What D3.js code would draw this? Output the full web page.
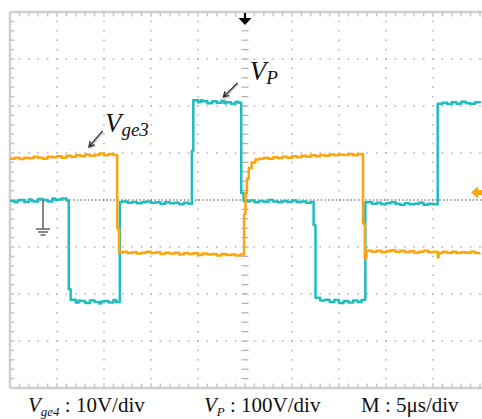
<!DOCTYPE html>
<html>
<head>
<meta charset="utf-8">
<script src="https://cdn.jsdelivr.net/npm/d3@7"></script>
<style>
body { margin: 0; background: #fff; }
</style>
</head>
<body>
<svg id="scope" width="482" height="419"></svg>
<script>
// time in us, level in screen divisions (0 = centre line)
var vpTrace = [
    [0,-0.02],[0.5,-0.05],[0.8,-0.01],[1,0],[1.5,-0.04],[2,0.01],[2.3,-0.02],[2.5,-0.03],[3,0.02],[3.5,0],[4,-0.03],[4.5,0.03],[4.8,0],[5,0.01],[5.5,0.03],[6,-0.01],
    [6.25,-1.9],[6.45,-2.12],[7,-2.18],[7.3,-2.14],[7.5,-2.15],[8,-2.19],[8.5,-2.14],[9,-2.17],[9.5,-2.2],[9.7,-2.16],[10,-2.15],[10.5,-2.18],[11,-2.13],[11.3,-2.17],
    [11.68,-0.04],[12,-0.03],[12.5,-0.06],[13,-0.04],[13.5,-0.07],[14,-0.05],[14.5,-0.03],[15,-0.06],[15.5,-0.05],[16,-0.08],[16.5,-0.05],[17,-0.07],[17.5,-0.06],[18,-0.09],[18.5,-0.06],[19,-0.08],
    [19.35,1.05],[19.5,2.12],[20,2.08],[20.3,2.12],[20.5,2.1],[21,2.06],[21.5,2.1],[22,2.07],[22.5,2.11],[22.8,2.06],[23,2.08],[23.5,2.05],[24,2.09],[24.3,2.07],
    [24.6,0.15],[24.85,-0.02],[25.2,-0.03],[25.5,-0.01],[26,-0.05],[26.5,-0.02],[27,-0.04],[27.5,0],[28,-0.03],[28.5,-0.05],[29,-0.02],[29.5,-0.04],[30,-0.01],[30.5,-0.05],[31,-0.03],[31.5,-0.06],[32,-0.04],
    [32.3,-0.53],[32.5,-2.08],[33,-2.14],[33.5,-2.12],[34,-2.17],[34.5,-2.13],[35,-2.19],[35.5,-2.15],[36,-2.18],[36.5,-2.14],[37,-2.17],[37.4,-2.13],
    [37.8,-0.05],[38,-0.05],[38.5,-0.08],[39,-0.06],[39.5,-0.09],[40,-0.07],[40.5,-0.05],[41,-0.08],[41.5,-0.1],[42,-0.07],[42.5,-0.09],[43,-0.08],[43.5,-0.06],[44,-0.1],[44.5,-0.08],[45,-0.09],
    [45.5,2.05],[46,2.07],[46.5,2.04],[47,2.08],[47.5,2.05],[48,2.09],[48.5,2.06],[49,2.05],[49.5,2.08],[50,2.06]
];

var vgeTrace = [
    [0,0.88],[0.5,0.9],[1,0.87],[1.5,0.9],[2,0.89],[2.5,0.92],[3,0.9],[3.5,0.88],[4,0.92],[4.5,0.91],[5,0.93],[5.5,0.9],[6,0.94],[6.5,0.92],[7,0.95],[7.5,0.93],[8,0.97],[8.5,0.94],[9,0.96],[9.5,0.99],[10,0.95],[10.5,0.98],[11,0.96],
    [11.4,-0.6],[11.6,-1.12],[12,-1.1],[12.5,-1.13],[13,-1.11],[13.5,-1.14],[14,-1.12],[14.5,-1.1],[15,-1.13],[15.5,-1.11],[16,-1.15],[16.5,-1.12],[17,-1.14],[17.5,-1.12],[18,-1.16],[18.5,-1.13],[19,-1.15],[19.5,-1.13],[20,-1.17],[20.5,-1.14],[21,-1.16],[21.5,-1.15],[22,-1.18],[22.5,-1.15],[23,-1.17],[23.5,-1.16],[24,-1.18],[24.5,-1.16],
    [24.9,-0.3],[25.05,0.15],[25.2,0.45],[25.4,0.68],[25.7,0.8],[26.1,0.86],[26.5,0.88],[27,0.9],[27.5,0.88],[28,0.91],[28.5,0.89],[29,0.92],[29.5,0.9],[30,0.93],[30.5,0.91],[31,0.94],[31.5,0.92],[32,0.95],[32.5,0.93],[33,0.96],[33.5,0.94],[34,0.97],[34.5,0.95],[35,0.97],[35.5,0.96],[36,0.98],[36.5,0.95],[37,0.98],
    [37.55,-0.5],[37.75,-1.25],[37.9,-1.08],[38.5,-1.1],[39,-1.08],[39.5,-1.11],[40,-1.09],[40.5,-1.07],[41,-1.1],[41.5,-1.08],[42,-1.11],[42.5,-1.09],[43,-1.12],[43.5,-1.1],[44,-1.08],[44.5,-1.11],[45,-1.1],[45.5,-1.22],[45.6,-1.13],[46,-1.1],[46.5,-1.12],[47,-1.1],[47.5,-1.13],[48,-1.11],[48.5,-1.12],[49,-1.1],[49.5,-1.13],[50,-1.12]
];

// trace labels: text position and arrow tail/tip, in (us, div)
var traceLabels = [
    {main: "V", sub: "ge3", t: 10.1, v: 1.45, tail: [9.85, 1.47], tip: [8.4, 1.13]},
    {main: "V", sub: "P",   t: 25.5, v: 2.55, tail: [24.2, 2.49], tip: [22.7, 2.19]}
];

var scaleLabels = [
    {main: "V", sub: "ge4", rest: " : 10V/div", x: 28},
    {main: "V", sub: "P",   rest: " : 100V/div", x: 204},
    {main: "",  sub: "",    rest: "M : 5\u03bcs/div", x: 361}
];

var xDivs = 10, yDivs = 8, minorPerDiv = 5;

var svg = d3.select("#scope");
var x = d3.scaleLinear().domain([0, 50]).range([10, 480]);
var y = d3.scaleLinear().domain([-4, 4]).range([388, 12]);
var serif = "'Liberation Serif', 'Times New Roman', serif";

function draw_grid(g) {
    var tMajor = d3.range(1, xDivs).map(function(i) { return i * 5; });
    var vMajor = d3.range(-yDivs / 2 + 1, yDivs / 2);
    var tMinor = d3.range(0, 50.01, 5 / minorPerDiv);
    var vMinor = d3.range(-4, 4.01, 1 / minorPerDiv);
    var dots = [];
    tMajor.forEach(function(t) {
	if (t == 25) return;
	vMinor.forEach(function(v) { dots.push([t, v]); });
    });
    vMajor.forEach(function(v) {
	if (v == 0) return;
	tMinor.forEach(function(t) { dots.push([t, v]); });
    });
    g.selectAll("rect.dot").data(dots).enter().append("rect")
	.attr("class", "dot")
	.attr("x", function(d) { return x(d[0]) - 0.8; })
	.attr("y", function(d) { return y(d[1]) - 0.8; })
	.attr("width", 1.6).attr("height", 1.6)
	.style("fill", "#b8b8b8");
    // centre vertical axis with dashes
    g.selectAll("line.cv").data(vMinor.filter(function(v) { return v > -4 && v < 4; }))
	.enter().append("line")
	.attr("x1", x(25) - 3.5).attr("x2", x(25) + 3.5)
	.attr("y1", function(d) { return y(d); })
	.attr("y2", function(d) { return y(d); })
	.style("stroke", "#b0b0b0").style("stroke-width", 1.2);
    // centre horizontal axis
    g.append("line")
	.attr("x1", x(0)).attr("x2", 482)
	.attr("y1", y(0)).attr("y2", y(0))
	.style("stroke", "#444").style("stroke-width", 1.2)
	.style("stroke-dasharray", "1.5,2.2");
    // frame (right edge falls outside the picture)
    var frame = [[x(0), y(4), 482, y(4)], [x(0), y(-4), 482, y(-4)], [x(0), y(4), x(0), y(-4)]];
    g.selectAll("line.frame").data(frame).enter().append("line")
	.attr("x1", function(d) { return d[0]; }).attr("y1", function(d) { return d[1]; })
	.attr("x2", function(d) { return d[2]; }).attr("y2", function(d) { return d[3]; })
	.style("stroke", "#cfcfcf").style("stroke-width", 2.5);
    var inner = tMinor.filter(function(t) { return t > 0; });
    g.selectAll("line.ttop").data(inner).enter().append("line")
	.attr("x1", function(d) { return x(d); }).attr("x2", function(d) { return x(d); })
	.attr("y1", y(4)).attr("y2", y(4) + 4.5)
	.style("stroke", "#c4c4c4").style("stroke-width", 1.4);
    g.selectAll("line.tbot").data(inner).enter().append("line")
	.attr("x1", function(d) { return x(d); }).attr("x2", function(d) { return x(d); })
	.attr("y1", y(-4)).attr("y2", y(-4) - 4.5)
	.style("stroke", "#c4c4c4").style("stroke-width", 1.4);
    g.selectAll("line.tleft").data(vMinor.filter(function(v) { return v > -4 && v < 4; }))
	.enter().append("line")
	.attr("x1", x(0)).attr("x2", x(0) + 4.5)
	.attr("y1", function(d) { return y(d); }).attr("y2", function(d) { return y(d); })
	.style("stroke", "#c4c4c4").style("stroke-width", 1.4);
}

function draw_markers(g) {
    // trigger position arrow at top
    var cx = x(25);
    g.append("line").attr("x1", cx).attr("x2", cx).attr("y1", 13).attr("y2", 20)
	.style("stroke", "#000").style("stroke-width", 2.2);
    g.append("path")
	.attr("d", "M" + (cx - 6.5) + ",18 L" + (cx + 6.5) + ",18 L" + cx + ",25 Z")
	.style("fill", "#000");
    // trigger level marker, right edge
    var ty = y(0.16);
    g.append("path")
	.attr("d", "M471," + ty + " L478," + (ty - 6) + " L478," + (ty - 2.5) + " L483," + (ty - 2.5) +
	      " L483," + (ty + 2.5) + " L478," + (ty + 2.5) + " L478," + (ty + 6) + " Z")
	.style("fill", "#ffa40a");
    // ground symbol of channel reference
    var gx = 43, gy = y(0);
    g.append("line").attr("x1", gx).attr("x2", gx).attr("y1", gy).attr("y2", gy + 29)
	.style("stroke", "#555").style("stroke-width", 1.4);
    [[7, 29], [5, 32], [2.5, 35]].forEach(function(s) {
	g.append("line").attr("x1", gx - s[0]).attr("x2", gx + s[0])
	    .attr("y1", gy + s[1]).attr("y2", gy + s[1])
	    .style("stroke", "#555").style("stroke-width", 1.4);
    });
}

function draw_trace(g, data, col) {
    var line = d3.line()
	.x(function(d) { return x(d[0]); })
	.y(function(d) { return y(d[1]); })
	.curve(d3.curveStepAfter);
    g.append("path")
	.attr("d", line(data))
	.style("fill", "none")
	.style("stroke", col)
	.style("stroke-width", 2.5)
	.style("stroke-linejoin", "round");
}

function draw_label(g, d) {
    var t = g.append("text")
	.attr("x", x(d.t)).attr("y", y(d.v))
	.style("font-family", serif).style("font-style", "italic")
	.style("font-size", "27px").style("fill", "#111");
    t.append("tspan").text(d.main);
    t.append("tspan").attr("dy", 4).style("font-size", "19px").text(d.sub);
    var x1 = x(d.tail[0]), y1 = y(d.tail[1]), x2 = x(d.tip[0]), y2 = y(d.tip[1]);
    var a = Math.atan2(y2 - y1, x2 - x1), h = 6;
    var p = "M" + x1 + "," + y1 + " L" + x2 + "," + y2 +
	" M" + (x2 - h * Math.cos(a - 0.5)) + "," + (y2 - h * Math.sin(a - 0.5)) +
	" L" + x2 + "," + y2 +
	" L" + (x2 - h * Math.cos(a + 0.5)) + "," + (y2 - h * Math.sin(a + 0.5));
    g.append("path").attr("d", p).attr("transform", "translate(1,1)")
	.style("fill", "none").style("stroke", "#d0d0d0").style("stroke-width", 1.6);
    g.append("path").attr("d", p)
	.style("fill", "none").style("stroke", "#333").style("stroke-width", 1.4);
}

function draw_scale_text(g, d) {
    var t = g.append("text")
	.attr("x", d.x).attr("y", 412)
	.style("font-family", serif).style("font-size", "21px").style("fill", "#111");
    if (d.main) {
	t.append("tspan").style("font-style", "italic").text(d.main);
	t.append("tspan").style("font-style", "italic").style("font-size", "13px")
	    .attr("dy", 4).text(d.sub);
	t.append("tspan").attr("dy", -4).text(d.rest);
    } else {
	t.append("tspan").text(d.rest);
    }
}

draw_grid(svg.append("g"));
draw_trace(svg.append("g"), vpTrace, "#1fbdc0");
draw_trace(svg.append("g"), vgeTrace, "#ffa40a");
draw_markers(svg.append("g"));
traceLabels.forEach(function(d) { draw_label(svg.append("g"), d); });
scaleLabels.forEach(function(d) { draw_scale_text(svg.append("g"), d); });
</script>
</body>
</html>
